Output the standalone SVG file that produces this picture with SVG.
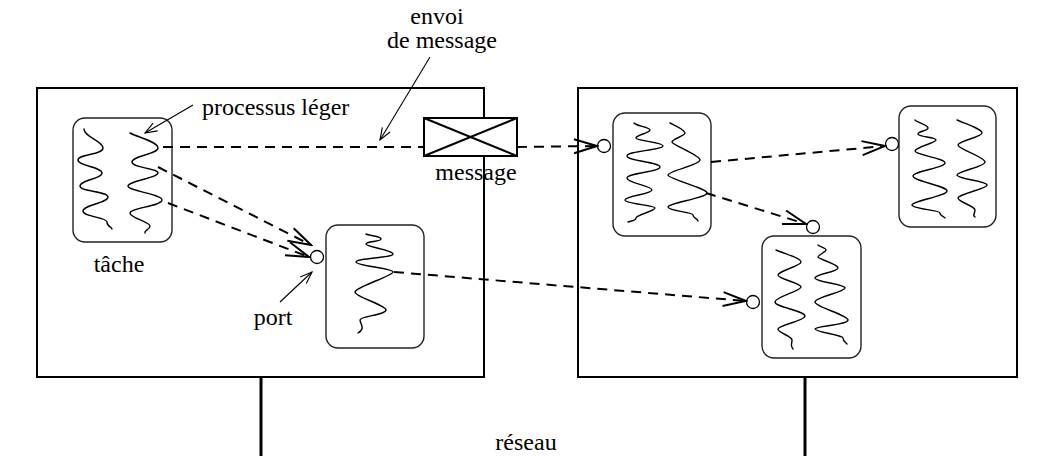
<svg xmlns="http://www.w3.org/2000/svg" width="1053" height="456" viewBox="0 0 1053 456">
<style>
.host{fill:none;stroke:#000;stroke-width:2}
.net{stroke:#000;stroke-width:3}
.task{fill:#fff;stroke:#222;stroke-width:1.4}
.sq{fill:none;stroke:#000;stroke-width:1.4;stroke-linecap:round}
.port{fill:#fff;stroke:#000;stroke-width:1.3}
.dash{fill:none;stroke:#000;stroke-width:2;stroke-dasharray:10 7}
.thin{fill:none;stroke:#000;stroke-width:1.1}
.lbl{font-family:"Liberation Serif","Times New Roman",serif;font-size:24px;fill:#000}
</style>
<defs>
<marker id="ah" markerUnits="userSpaceOnUse" viewBox="-25 -9 27 18" markerWidth="27" markerHeight="18" refX="0" refY="0" orient="auto">
<path d="M-23,-7 L0,0 L-23,7" fill="none" stroke="#000" stroke-width="2"/>
</marker>
<marker id="th" markerUnits="userSpaceOnUse" viewBox="-14 -6 16 12" markerWidth="16" markerHeight="12" refX="0" refY="0" orient="auto">
<path d="M-12,-4.5 L0,0 L-12,4.5" fill="none" stroke="#000" stroke-width="1.1"/>
</marker>
</defs>
<rect width="1053" height="456" fill="#fff"/>

<g id="host1">
<rect class="host" x="37" y="88" width="447" height="289"/>
<line class="net" x1="261" y1="377" x2="261" y2="456"/>
</g>
<g id="host2">
<rect class="host" x="578" y="88" width="439" height="289"/>
<line class="net" x1="805" y1="377" x2="805" y2="456"/>
</g>

<g id="message">
<rect x="424" y="118" width="93" height="38" fill="#fff" stroke="#000" stroke-width="2"/>
<path d="M424,118 L517,156 M517,118 L424,156" stroke="#000" stroke-width="2"/>
<text class="lbl" x="476" y="180" text-anchor="middle">message</text>
</g>

<g id="task1">
<rect class="task" x="73" y="118" width="99" height="124" rx="12"/>
<path class="sq" d="M84,129 C84,137 103,141 103,148 S78,154 78,160 S102,167 102,173 S80,180 80,186 S108,191 108,197 S83,205 83,211 S107,217 107,222 S112,227 112,229"/>
<path class="sq" d="M130,133 C140,138 158,142 158,148 S132,156 132,162 S158,168 158,173 S128,181 128,186 S162,194 162,200 S130,208 130,213 S150,222 150,226 S144,230 145,233"/>
</g>

<g id="task2">
<rect class="task" x="326" y="225" width="98" height="123" rx="12"/>
<circle class="port" cx="317" cy="257" r="6.5"/>
<path class="sq" d="M366,234 C370,236 381,236 381,239 S366,241 366,244 S393,250 393,254 S356,258 356,262 S393,268 393,272 S355,287 355,292 S386,305 386,310 S360,316 360,320 S366,328 358,333"/>
</g>

<g id="task3">
<rect class="task" x="613" y="113" width="98" height="123" rx="12"/>
<circle class="port" cx="604" cy="146" r="6.5"/>
<path class="sq" d="M634,123 C636,126 650,127 650,130 S636,135 636,138 S663,142 663,146 S627,151 627,156 S660,162 660,167 S627,173 627,178 S652,186 652,190 S625,196 625,200 S655,205 655,208 S636,215 636,218 S630,221 628,222"/>
<path class="sq" d="M670,123 C676,126 685,130 685,133 S672,139 672,142 S700,155 700,160 S668,171 668,175 S707,188 707,193 S668,203 668,207 S693,212 693,215 S698,219 698,221"/>
</g>

<g id="task4">
<rect class="task" x="899" y="106" width="97" height="121" rx="12"/>
<circle class="port" cx="892" cy="144" r="6.5"/>
<path class="sq" d="M915,120 C918,123 928,125 928,128 S918,131 918,134 S936,137 936,140 S915,147 915,151 S945,158 945,163 S913,171 913,176 S947,186 947,191 S912,201 912,205 S940,210 940,213 S945,217 945,218"/>
<path class="sq" d="M957,120 C966,124 982,129 982,133 S958,141 958,145 S985,157 985,162 S957,171 957,175 S987,181 987,185 S958,194 958,198 S975,206 975,210 S972,215 975,217"/>
</g>

<g id="task5">
<rect class="task" x="762" y="236" width="99" height="122" rx="12"/>
<circle class="port" cx="813" cy="227" r="6.5"/>
<circle class="port" cx="753" cy="302" r="6.5"/>
<path class="sq" d="M776,250 C785,254 801,258 801,262 S778,271 778,275 S801,283 801,287 S775,297 775,302 S805,311 805,316 S778,325 778,329 S792,336 792,340 S790,346 793,349"/>
<path class="sq" d="M818,245 C820,247 826,248 826,250 S818,255 818,257 S838,264 838,268 S815,274 815,278 S845,284 845,288 S815,297 815,302 S848,315 848,320 S815,326 815,329 S843,335 843,338 S845,342 847,344"/>
</g>

<g id="connectors">
<line class="dash" x1="163" y1="147" x2="424" y2="147"/>
<line class="dash" x1="517" y1="147" x2="597" y2="146" marker-end="url(#ah)"/>
<line class="dash" x1="158" y1="167" x2="311" y2="245" marker-end="url(#ah)"/>
<line class="dash" x1="168" y1="203" x2="309" y2="257" marker-end="url(#ah)"/>
<line class="dash" x1="394" y1="272" x2="746" y2="301" marker-end="url(#ah)"/>
<line class="dash" x1="711" y1="162" x2="885" y2="146" marker-end="url(#ah)"/>
<line class="dash" x1="706" y1="193" x2="806" y2="224" marker-end="url(#ah)"/>
<line class="thin" x1="193" y1="105" x2="145" y2="133" marker-end="url(#th)"/>
<line class="thin" x1="430" y1="57" x2="380" y2="140" marker-end="url(#th)"/>
<line class="thin" x1="280" y1="302" x2="312" y2="272" marker-end="url(#th)"/>
</g>

<g id="labels">
<text class="lbl" x="202" y="115">processus léger</text>
<text class="lbl" x="437" y="24" text-anchor="middle">envoi</text>
<text class="lbl" x="442" y="48" text-anchor="middle">de message</text>
<text class="lbl" x="119" y="272" text-anchor="middle">tâche</text>
<text class="lbl" x="273" y="325" text-anchor="middle">port</text>
<text class="lbl" x="526" y="450" text-anchor="middle">réseau</text>
</g>
</svg>
